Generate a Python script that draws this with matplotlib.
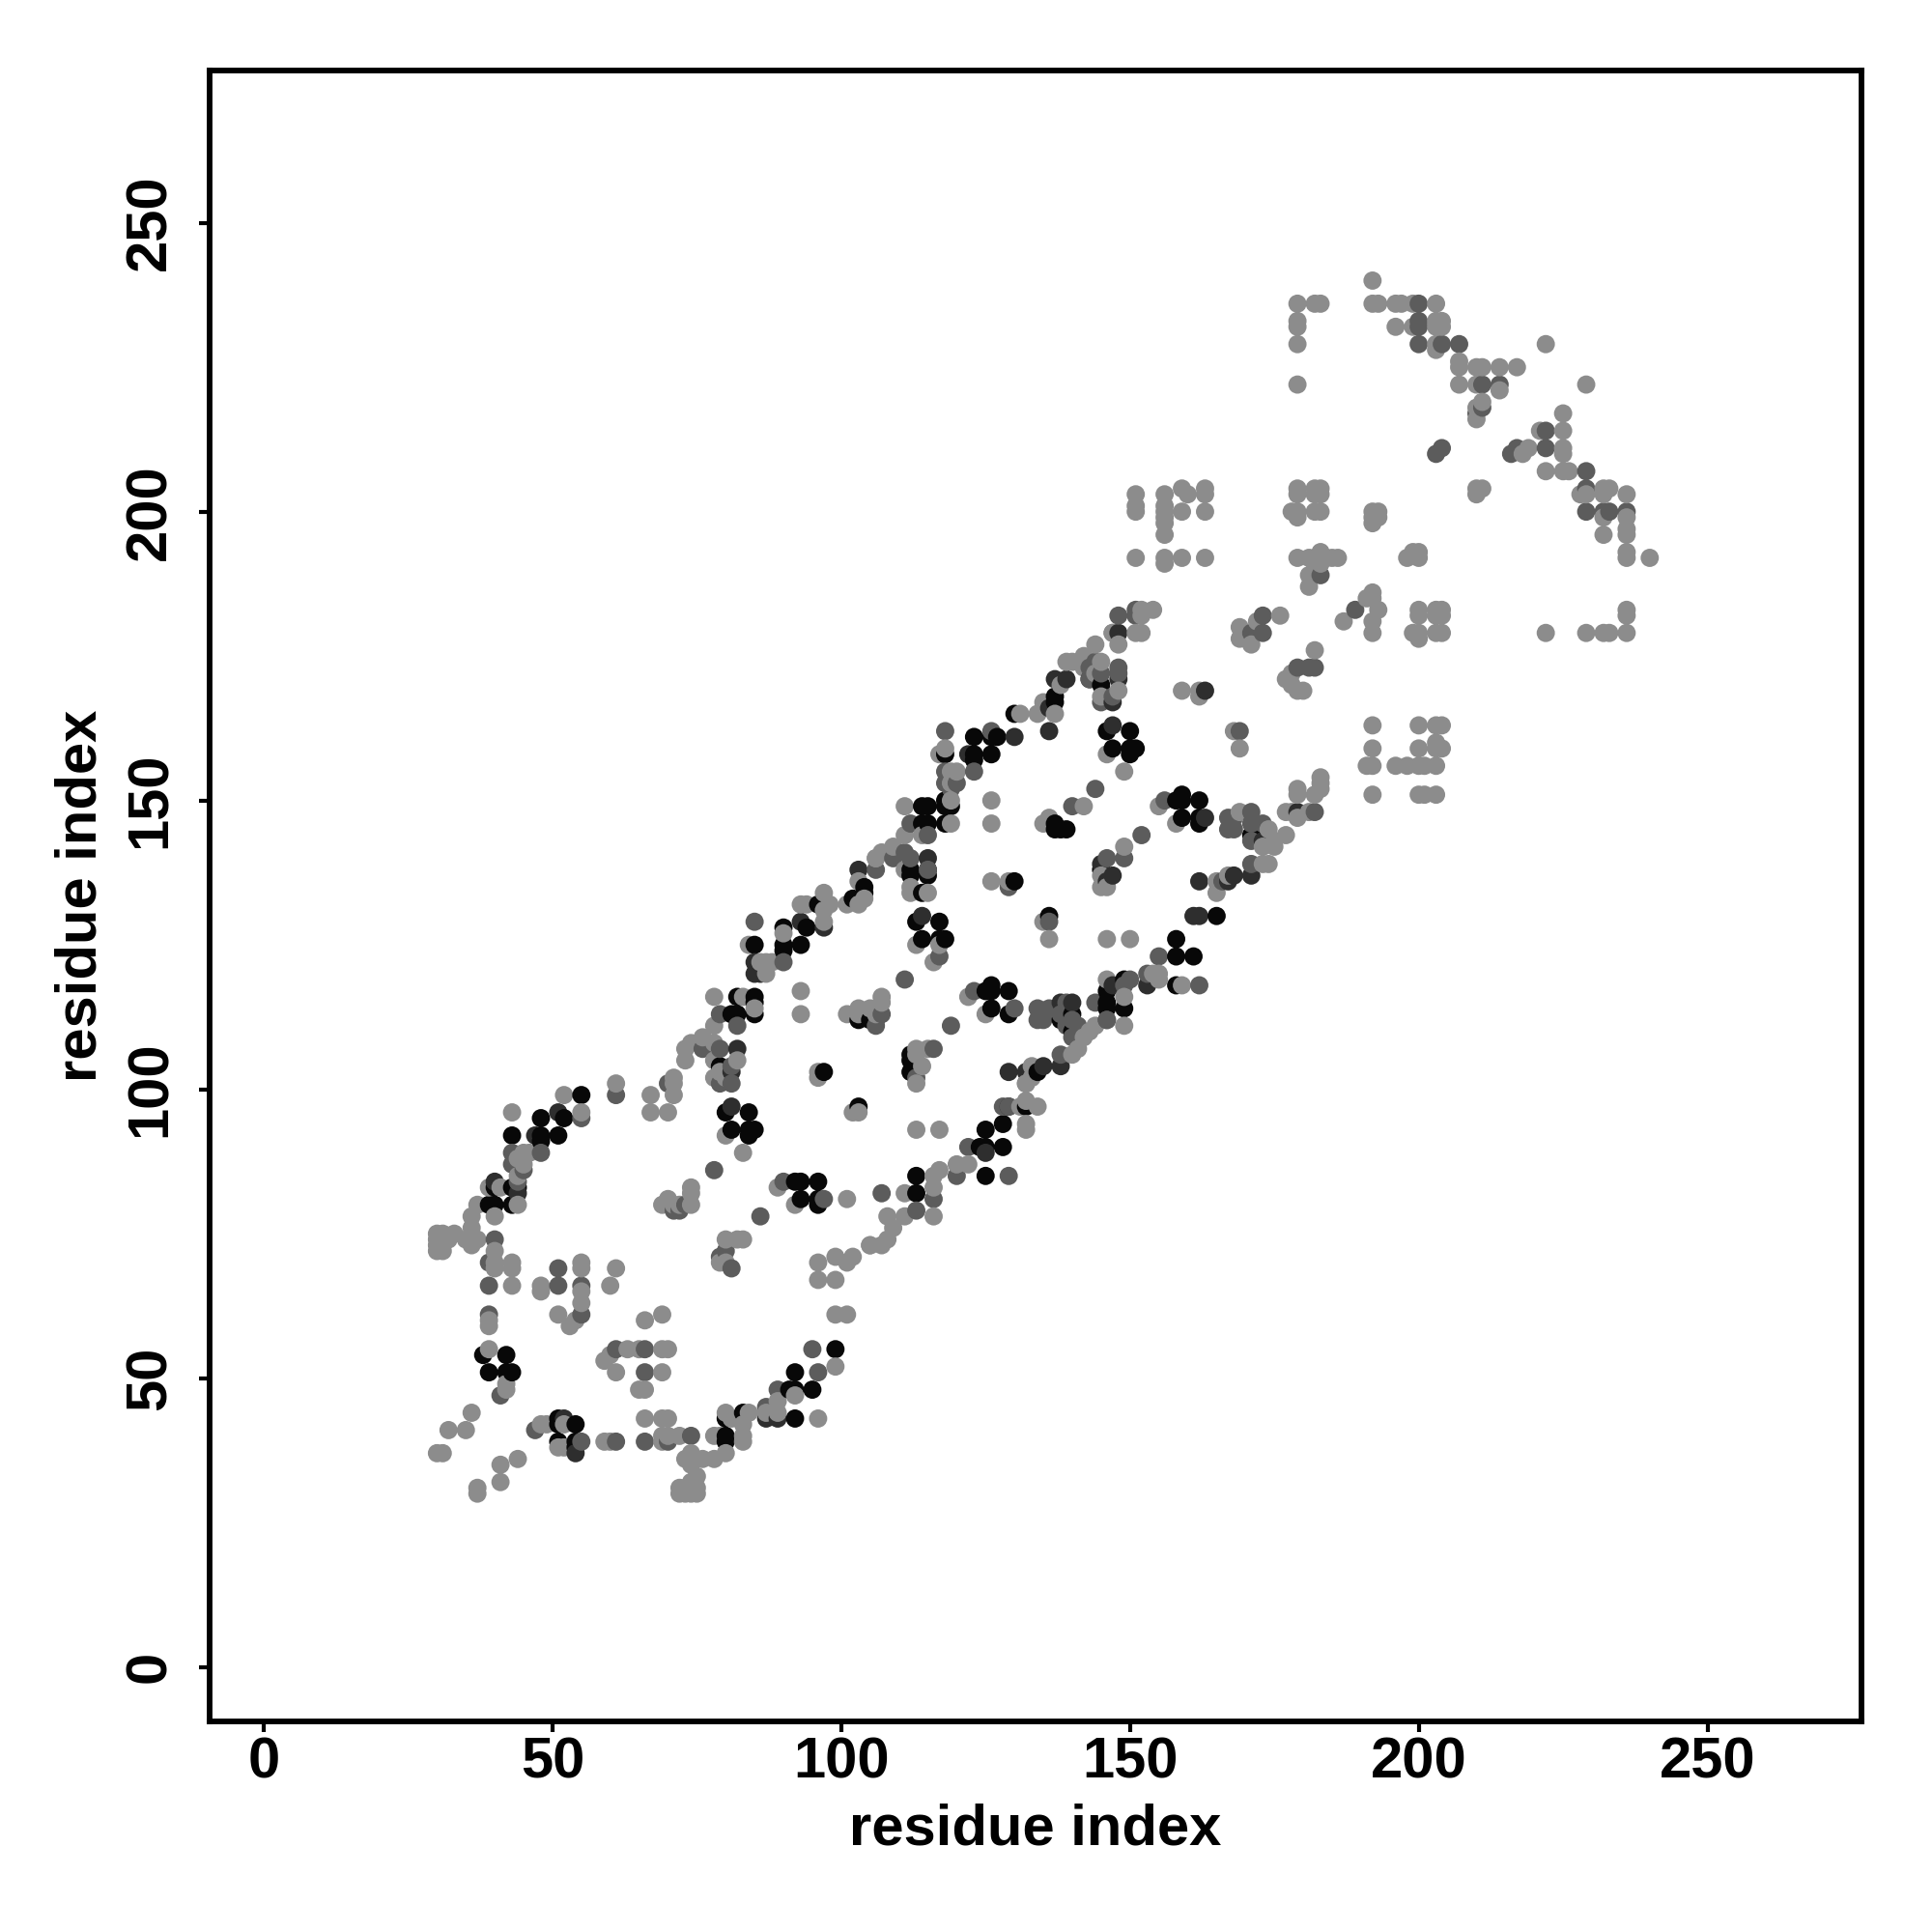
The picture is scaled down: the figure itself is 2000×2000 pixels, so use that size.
import matplotlib
matplotlib.use("Agg")
import matplotlib.pyplot as plt

plt.rcParams['font.family'] = ['Liberation Sans', 'DejaVu Sans']

tick_values = [0, 50, 100, 150, 200, 250]
axis_label = "residue index"

black_pts = [(55,99),(48,95),(48,92),(48,91),(51,92),(43,92),(52,95),(43,83),(44,83),(40,83),(39,80),(40,80),(43,80),
 (38,54),(42,54),(39,51),(42,51),(43,51),(51,43),(51,42),(54,42),(51,39),(54,39),(54,38),(80,40),(80,39),(80,43),(83,44),
 (92,43),(91,48),(92,48),(95,48),(92,51),(99,55),(93,84),(92,84),(96,84),(93,81),(96,80),(96,81),(90,128),(90,125),(90,124),
 (94,128),(93,125),(96,132),(85,125),(85,116),(85,115),(85,113),(82,116),(81,113),(82,113),(103,112),(105,112),(106,112),
 (80,96),(84,96),(81,93),(84,93),(84,92),(85,93),(97,103),(103,97),(112,106),(112,105),(112,103),(113,129),(117,129),(114,126),
 (117,126),(118,126),(126,118),(125,117),(126,117),(129,117),(126,114),(129,113),(132,97),(128,94),(125,93),(124,90),(125,90),
 (128,90),(113,85),(125,85),(113,82),(130,136),(136,130),(104,135),(104,134),(112,138),(115,138),(145,138),(145,170),(137,168),(137,167),
 (130,165),(123,161),(127,161),(126,161),(123,158),(123,157),(126,158),(118,158),(118,149),(119,149),(114,149),(118,146),(115,146),
 (146,162),(150,162),(147,159),(150,159),(150,158),(151,159),(139,145),(137,146),(137,145),(138,145),(159,151),(158,150),(159,150),
 (162,150),(159,147),(162,147),(162,146),(165,130),(158,126),(161,123),(158,123),(158,118),(149,119),(146,114),(146,115),(146,117),(140,113),
 (115,149),(118,150),(114,146),(102,133),(114,134),(115,137),(79,104),(138,112),(140,110),(134,103),(149,114),(171,144),(112,137)]

vdark_pts = [(51,96),(47,92),(40,84),(44,82),(54,37),(52,43),(87,43),(89,43),(137,171),(136,162),(161,130),(162,136),(168,137),(167,136),
 (163,169),(147,163),(163,147),(125,89),(93,129),(81,97),(114,130),(103,138),(115,140),(97,128),(139,171),(143,171),(136,166),
 (130,161),(147,118),(171,137),(129,103),(132,103),(135,104),(138,104),(129,97),(81,103),(82,107),(85,120),(86,120),(85,122),(122,158),
 (145,139),(147,137),(146,136),(162,130),(148,179),(148,171),(147,167),(138,115),(140,115),(153,118),(173,143),(179,148)]

mid_pts = [(48,89),(43,89),(43,87),(45,86),(44,84),(40,74),(39,70),(39,66),(51,69),(51,66),(55,66),(55,61),(39,61),(41,47),(47,41),
 (61,55),(66,55),(66,51),(74,40),(61,39),(66,39),(70,39),(55,39),(55,95),(87,45),(89,48),(96,51),(95,55),(90,84),(97,81),(86,78),(78,86),
 (73,80),(72,79),(71,79),(80,72),(79,71),(81,69),(85,129),(90,122),(79,113),(76,107),(79,107),(81,101),(79,101),(107,113),(106,111),(111,119),(119,111),(116,107),
 (113,102),(117,123),(129,135),(136,129),(123,117),(130,114),(134,114),(134,112),(135,112),(136,114),(138,113),(144,115),(139,115),
 (140,112),(141,111),(138,106),(132,101),(128,97),(122,90),(120,85),(129,85),(113,79),(116,81),(107,82),(149,140),(146,140),(152,144),(144,152),
 (118,162),(126,162),(119,152),(140,149),(156,150),(167,147),(167,145),(168,145),(168,147),(171,148),(171,146),(173,146),(162,118),(155,123),(149,118),
 (146,112),(181,173),(182,173),(179,173),(148,182),(151,182),(151,183),(173,182),(171,179),(173,179),(182,148),
 (183,189),(189,183),(169,162),(200,236),(200,233),(200,232),(200,229),(207,229),(211,222),(214,222),(204,229),(222,214),(222,211),
 (229,207),(229,204),(229,200),(232,200),(233,200),(236,200),(211,218),(210,217),(204,211),(203,210),(217,211),(216,210),(112,146),(111,141),(106,138),
 (109,140),(112,140),(115,144),(115,138),(118,155),(118,153),(123,155),(120,153),(82,111),(81,104),(143,173),(143,171),(144,174),(145,172),(148,173),(148,172),
 (147,168),(153,120),(150,119),(146,112),(141,109),(139,111),(140,109),(171,143),(171,139),(166,136),(61,99),(70,101),(145,167),(129,97)]

gray_pts = [(52,99),(43,96),(55,96),(45,89),(46,89),(44,88),(45,87),(44,85),(39,83),(41,83),(37,80),(44,80),(40,78),(36,78),(36,76),
 (36,73),(37,74),(35,74),(33,75),(32,74),(30,75),(31,75),(30,74),(31,74),(30,73),(31,73),(30,72),(31,72),(40,72),(40,70),(40,69),(43,70),(43,69),
 (43,66),(48,66),(48,65),(55,70),(55,69),(55,65),(55,63),(51,61),(54,60),(53,59),(61,69),(60,66),(39,60),(39,59),(66,60),(69,61),(99,61),(101,61),
 (96,70),(99,71),(101,70),(102,71),(96,67),(99,67),(105,73),(39,55),(42,49),(42,48),(36,44),(32,41),(35,41),(30,37),(31,37),(41,35),(44,36),
 (41,32),(37,31),(37,30),(48,42),(49,42),(52,42),(51,38),(52,38),(59,39),(60,39),(59,53),(60,54),(63,55),(65,55),(69,55),(70,55),(61,51),(69,51),
 (65,48),(66,48),(66,43),(69,43),(70,43),(69,40),(69,39),(70,40),(72,40),(73,36),(74,37),(76,36),(78,36),(80,37),(74,35),(75,33),(74,32),
 (72,31),(72,30),(73,31),(73,30),(74,31),(74,30),(75,31),(75,30),(78,40),(79,40),(83,39),(83,40),(80,44),(81,43),(84,44),(83,42),(87,44),(89,46),
 (89,44),(96,43),(92,47),(99,52),(89,83),(92,80),(101,81),(74,83),(74,82),(70,81),(69,80),(70,80),(71,80),(72,80),(74,80),(80,74),(83,74),(82,74),
 (80,70),(79,70),(97,134),(94,132),(93,132),(98,132),(97,131),(97,129),(90,127),(84,125),(86,122),(87,122),(88,122),(87,120),(83,116),(85,114),
 (78,116),(78,111),(73,107),(74,108),(76,109),(78,108),(73,105),(78,105),(82,105),(80,102),(78,102),(79,103),(93,117),(93,113),
 (107,116),(107,115),(101,113),(103,114),(103,113),(105,114),(106,113),(83,89),(80,92),(96,103),(96,102),(102,96),(103,96),(113,93),(117,93),
 (113,107),(115,107),(113,106),(114,104),(113,101),(113,125),(117,125),(116,122),(126,136),(129,136),(135,129),(136,126),(146,126),(150,126),
 (122,116),(125,113),(144,111),(142,109),(143,110),(140,106),(141,107),(132,98),(131,97),(134,97),(132,94),(132,93),(120,87),(122,87),(117,86),(116,85),
 (116,83),(111,82),(116,78),(111,78),(105,73),(107,73),(108,78),(109,76),(108,74),(146,135),(149,142),(145,137),(106,140),(103,136),
 (103,132),(101,132),(112,135),(115,134),(112,134),(144,177),(148,177),(147,179),(152,179),(151,179),(139,174),(140,174),(142,175),
 (145,174),(142,173),(144,172),(148,169),(145,168),(134,165),(131,165),(135,167),
 (118,159),(117,158),(119,155),(120,155),(119,153),(126,150),(126,146),(119,146),(146,158),(149,155),(142,149),(135,146),(136,147),
 (145,135),(159,169),(162,169),(162,168),(168,162),(169,159),(155,149),(158,146),(169,148),(174,145),(177,144),(175,143),(175,142),(173,142),
 (173,139),(174,139),(165,136),(167,137),(165,134),(155,120),(155,119),(159,118),(146,119),(149,111),(154,120),(149,116),
 (182,176),(178,172),(177,171),(178,170),(179,169),(180,169),(192,163),(192,159),(191,156),(192,156),(192,151),
 (151,203),(151,201),(151,200),(151,192),(156,203),(156,201),(156,200),(156,199),(156,198),(156,196),(156,192),(156,191),(159,204),(160,203),
 (159,200),(159,192),(163,204),(163,203),(163,200),(163,192),(179,204),(179,203),(182,204),(183,204),(182,203),(183,203),(178,200),(179,200),
 (179,199),(182,200),(183,200),(179,192),(181,192),(183,193),(182,192),(183,191),(184,192),(185,192),(186,192),(181,189),(181,187),(182,190),
 (192,200),(193,200),(192,199),(193,199),(192,198),(198,192),(199,193),(200,193),(200,192),(192,186),(191,185),(192,185),(193,183),(187,181),
 (192,181),(192,179),(200,183),(200,182),(203,183),(204,183),(203,182),(204,182),(199,179),(200,179),(200,178),(203,179),(204,179),(222,179),
 (154,183),(152,183),(152,182),(176,182),(172,181),(169,180),(169,178),(170,178),(171,177),(200,163),(203,163),(204,163),
 (203,160),(200,159),(203,159),(204,159),(196,156),(198,156),(200,156),(201,156),(203,156),(200,151),(201,151),(203,151),(183,153),(183,154),(179,152),
 (179,151),(182,151),(183,152),(177,148),(178,148),(179,147),(181,148),
 (192,240),(192,236),(193,236),(196,236),(197,236),(199,236),(203,236),(179,236),(182,236),(183,236),(179,233),(179,232),(179,229),(179,222),
 (196,232),(199,232),(203,233),(204,233),(203,232),(204,232),(203,229),(203,228),(207,226),(207,225),(210,225),(211,225),(214,225),(217,225),
 (207,222),(210,222),(214,221),(211,219),(210,218),(210,216),(222,229),(229,222),(225,217),(225,214),(221,214),(225,211),(225,210),(218,210),(219,211),
 (222,207),(225,207),(226,207),(228,203),(229,203),(232,204),(233,204),(232,203),(236,203),(232,199),(236,199),(236,197),(236,196),(232,196),
 (236,193),(236,192),(240,192),(210,204),(211,204),(210,203),(236,183),(236,182),(236,179),(229,179),(232,179),(233,179),
 (111,149),(114,144),(111,144),(109,142),(107,141),(106,140),(111,138),(104,133),(119,150),(71,102),(71,101),(71,99),(70,96),(67,99),(67,96),(61,101),
 (138,170),(137,165),(133,102),(133,104),(132,101),(147,179)]

levels = [(black_pts, 0.03), (vdark_pts, 0.18), (mid_pts, 0.36), (gray_pts, 0.55)]

xs, ys, cs = [], [], []
for pts, g in levels:
    for (px, py) in pts:
        xs.append(px); ys.append(py); cs.append(str(g))
order = sorted(range(len(xs)), key=lambda i: xs[i])
xs = [xs[i] for i in order]
ys = [ys[i] for i in order]
cs = [cs[i] for i in order]

fig = plt.figure(figsize=(20, 20), dpi=100, facecolor='white')
ax = fig.add_axes([0.1084, 0.1091, 0.8552, 0.8545])
ax.scatter(xs, ys, c=cs, s=185, linewidths=0, zorder=3)
ax.set_xlim(-9.4, 276.7)
ax.set_ylim(-9.4, 276.4)
ax.set_xticks(tick_values)
ax.set_yticks(tick_values)
ax.tick_params(axis='both', length=8, width=3, labelsize=43)
for lab in ax.get_xticklabels():
    lab.set_fontweight('bold')
for lab in ax.get_yticklabels():
    lab.set_fontweight('bold')
    lab.set_rotation(90)
    lab.set_va('center')
for s in ax.spines.values():
    s.set_linewidth(4.2)
ax.tick_params(axis='x', pad=3.5)
ax.tick_params(axis='y', pad=16)
ax.set_xlabel(axis_label, fontsize=43, fontweight='bold', labelpad=10)
ax.set_ylabel(axis_label, fontsize=43, fontweight='bold', labelpad=12)
fig.savefig('out.png', dpi=100)
